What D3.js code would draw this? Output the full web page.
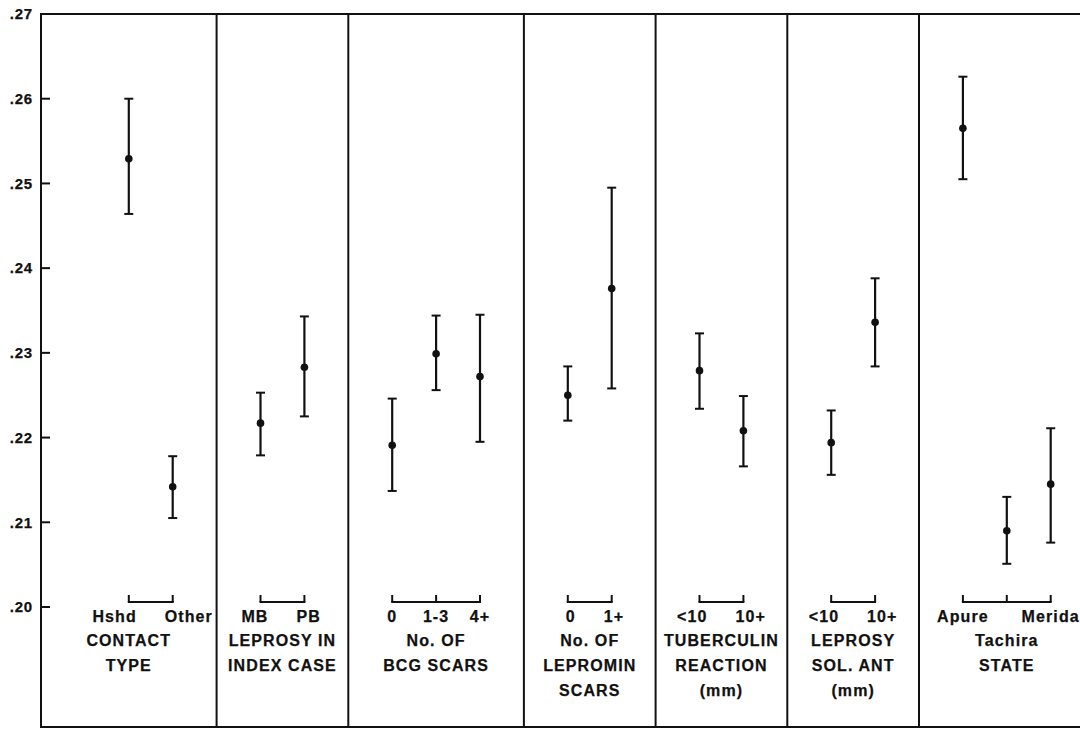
<!DOCTYPE html>
<html>
<head>
<meta charset="utf-8">
<script src="https://cdn.jsdelivr.net/npm/d3@7"></script>
<style>
  body { margin: 0; background: #fff; }
  svg text { font-family: "Liberation Sans", Arial, sans-serif; font-weight: bold; fill: #111; stroke: #111; stroke-width: 0.25px; }
  .tick text { font-size: 15px; letter-spacing: 0.8px; }
  .lbl { font-size: 16px; letter-spacing: 1.1px; }
</style>
</head>
<body>
<div class="chart"></div>
<script>
// values
var panelTitles = [
    ["CONTACT", "TYPE"],
    ["LEPROSY IN", "INDEX CASE"],
    ["No. OF", "BCG SCARS"],
    ["No. OF", "LEPROMIN", "SCARS"],
    ["TUBERCULIN", "REACTION", "(mm)"],
    ["LEPROSY", "SOL. ANT", "(mm)"],
    ["STATE"]
]
var categories = [
    ["Hshd", "Other"],
    ["MB", "PB"],
    ["0", "1-3", "4+"],
    ["0", "1+"],
    ["<10", "10+"],
    ["<10", "10+"],
    ["Apure", "Tachira", "Merida"]
]
var means = [
    [0.2529, 0.2142],
    [0.2217, 0.2283],
    [0.2191, 0.2299, 0.2272],
    [0.2250, 0.2376],
    [0.2279, 0.2208],
    [0.2194, 0.2336],
    [0.2565, 0.2090, 0.2145]
]
var lower = [
    [0.2464, 0.2105],
    [0.2179, 0.2225],
    [0.2137, 0.2256, 0.2195],
    [0.2220, 0.2258],
    [0.2234, 0.2166],
    [0.2156, 0.2284],
    [0.2505, 0.2051, 0.2076]
]
var upper = [
    [0.2600, 0.2178],
    [0.2253, 0.2343],
    [0.2246, 0.2344, 0.2345],
    [0.2284, 0.2495],
    [0.2323, 0.2249],
    [0.2232, 0.2388],
    [0.2626, 0.2130, 0.2211]
]
var yTicks = [0.20, 0.21, 0.22, 0.23, 0.24, 0.25, 0.26, 0.27]

var margin = { top: 14, left: 41, bottom: 727 }
var width = 1080, height = 730

var svg = d3.select(".chart").append("svg")
    .attr("width", width)
    .attr("height", height)

// panel layout in "steps": one step before each group, first panel gets an extra one
var panels = []
var u = 0
categories.forEach(function(cats, i) {
    var lead = i === 0 ? 2 : 1
    panels.push({ start: u, first: u + lead, n: cats.length, end: u + lead + cats.length })
    u += lead + cats.length
})

var xScale = d3.scaleLinear().domain([0, u]).range([margin.left, margin.left + u * 43.9])
var yScale = d3.scaleLinear().domain([0.20, 0.27]).range([607, margin.top])

var yAxis = d3.axisLeft(yScale)
    .tickValues(yTicks)
    .tickFormat(function(d) { return d3.format(".2f")(d).replace(/^0/, "") })
    .tickSize(0)
    .tickPadding(8)

var gy = svg.append("g")
    .attr("transform", "translate(" + margin.left + ",0)")
    .call(yAxis)
gy.select(".domain").remove()

// short inward tick marks
svg.selectAll("line.ytick")
    .data(yTicks)
    .enter().append("line")
    .attr("class", "ytick")
    .attr("x1", margin.left - 1).attr("x2", margin.left + 9)
    .attr("y1", function(d) { return yScale(d) })
    .attr("y2", function(d) { return yScale(d) })
    .attr("stroke", "#111").attr("stroke-width", 2)

// frame: top, bottom, left and panel dividers
svg.append("line")
    .attr("x1", margin.left).attr("x2", width)
    .attr("y1", margin.top).attr("y2", margin.top)
    .attr("stroke", "#111").attr("stroke-width", 2)
svg.append("line")
    .attr("x1", margin.left).attr("x2", width)
    .attr("y1", margin.bottom).attr("y2", margin.bottom)
    .attr("stroke", "#111").attr("stroke-width", 2)
svg.selectAll("line.divider")
    .data([0].concat(panels.slice(1).map(function(p) { return p.start })))
    .enter().append("line")
    .attr("class", "divider")
    .attr("x1", function(d) { return xScale(d) })
    .attr("x2", function(d) { return xScale(d) })
    .attr("y1", margin.top - 1).attr("y2", margin.bottom + 1)
    .attr("stroke", "#111").attr("stroke-width", 2)

var bracketY = 602
var lineY = [622, 646, 671, 696]

panels.forEach(function(p, i) {
    var g = svg.append("g")
    var xs = categories[i].map(function(_, j) { return xScale(p.first + j) })
    var rows = categories[i].map(function(c, j) {
        return { cat: c, x: xs[j], m: means[i][j], lo: lower[i][j], hi: upper[i][j] }
    })

    // error bars
    var eb = g.selectAll("g.eb").data(rows).enter().append("g").attr("class", "eb")
    eb.append("line")
        .attr("x1", function(d) { return d.x }).attr("x2", function(d) { return d.x })
        .attr("y1", function(d) { return yScale(d.lo) }).attr("y2", function(d) { return yScale(d.hi) })
        .attr("stroke", "#111").attr("stroke-width", 2.2)
    eb.append("line")
        .attr("x1", function(d) { return d.x - 4.5 }).attr("x2", function(d) { return d.x + 4.5 })
        .attr("y1", function(d) { return yScale(d.hi) }).attr("y2", function(d) { return yScale(d.hi) })
        .attr("stroke", "#111").attr("stroke-width", 2)
    eb.append("line")
        .attr("x1", function(d) { return d.x - 4.5 }).attr("x2", function(d) { return d.x + 4.5 })
        .attr("y1", function(d) { return yScale(d.lo) }).attr("y2", function(d) { return yScale(d.lo) })
        .attr("stroke", "#111").attr("stroke-width", 2)
    eb.append("circle")
        .attr("cx", function(d) { return d.x })
        .attr("cy", function(d) { return yScale(d.m) })
        .attr("r", 3.8)
        .attr("fill", "#111")

    // bracket under the group
    g.append("line")
        .attr("x1", xs[0] - 1).attr("x2", xs[xs.length - 1] + 1)
        .attr("y1", bracketY).attr("y2", bracketY)
        .attr("stroke", "#111").attr("stroke-width", 2)
    g.selectAll("line.tk").data(xs).enter().append("line")
        .attr("class", "tk")
        .attr("x1", function(d) { return d }).attr("x2", function(d) { return d })
        .attr("y1", bracketY).attr("y2", bracketY - 7)
        .attr("stroke", "#111").attr("stroke-width", 2)

    // category labels
    var titleStart = 1
    rows.forEach(function(d, j) {
        var t = g.append("text").attr("class", "lbl").text(d.cat)
        if (rows.length === 2) {
            t.attr("x", j === 0 ? d.x + 8 : d.x - 8)
             .attr("text-anchor", j === 0 ? "end" : "start")
             .attr("y", lineY[0])
        } else {
            t.attr("x", d.x).attr("text-anchor", "middle").attr("y", lineY[0])
        }
    })
    // stagger the middle label if the row is too crowded
    if (rows.length === 3) {
        var labs = g.selectAll("text.lbl").nodes()
        var tot = d3.sum(labs, function(n) { return n.getComputedTextLength() })
        if (tot > (xs[2] - xs[0]) + 60) {
            d3.select(labs[1]).attr("y", lineY[1])
            titleStart = 2
        }
    }

    // panel title lines centred in the panel
    var cx = (xScale(p.start) + xScale(p.end)) / 2
    panelTitles[i].forEach(function(s, k) {
        g.append("text").attr("class", "lbl")
            .attr("x", cx)
            .attr("y", lineY[titleStart + k])
            .attr("text-anchor", "middle")
            .text(s)
    })
})
</script>
</body>
</html>
